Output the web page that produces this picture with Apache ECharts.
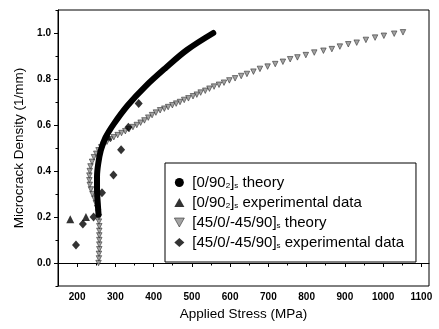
<!DOCTYPE html>
<html>
<head>
<meta charset="utf-8">
<script src="https://cdn.jsdelivr.net/npm/echarts@6/dist/echarts.min.js"></script>
<style>
html,body{margin:0;padding:0;background:#fff;}
#c{width:439px;height:329px;}
</style>
</head>
<body>
<div id="c"></div>
<script>
// ---- data ----
const xMajorTicks = [200, 300, 400, 500, 600, 700, 800, 900, 1000, 1100];
const xMinorTicks = [150, 250, 350, 450, 550, 650, 750, 850, 950, 1050];
const yMajorTicks = [0.0, 0.2, 0.4, 0.6, 0.8, 1.0];
const yMinorTicks = [-0.1, 0.1, 0.3, 0.5, 0.7, 0.9, 1.1];

// [0/90_2]_s theory
const crossTheoryStress  = [256, 254, 252, 252, 255, 262, 274, 296, 332, 378, 430, 487, 556];
const crossTheoryDensity = [0.21, 0.26, 0.32, 0.375, 0.43, 0.49, 0.545, 0.605, 0.685, 0.767, 0.846, 0.926, 1.0];

// [0/90_2]_s experimental data
const crossExpStress  = [182, 223, 281];
const crossExpDensity = [0.19, 0.20, 0.55];

// [45/0/-45/90]_s theory
const quasiTheoryStress = [256,257,257,258,258,258,258,258,258,257,257,255,252,249,245,240,236,233,232,232,233,235,239,244,250,256,263,270,278,287,296,306,316,326,336,346,356,366,376,386,396,406,
  417,428,438,449,459,469,480,491,503,513,523,535,546,558,571,584,598,613,629,644,661,678,698,718,738,757,776,798,820,844,866,887,909,931,955,979,1002,1029,1052];
const quasiTheoryDensity = [0.00,0.02,0.04,0.06,0.08,0.10,0.12,0.14,0.16,0.18,0.20,0.22,0.24,0.26,0.28,0.30,0.32,0.34,0.36,0.38,0.40,0.42,0.44,0.46,0.475,0.49,0.503,0.515,0.527,0.538,0.547,0.556,0.565,0.573,0.582,0.591,0.600,0.610,0.620,0.632,0.643,0.654,
  0.664,0.671,0.678,0.686,0.693,0.700,0.709,0.716,0.725,0.732,0.741,0.749,0.758,0.767,0.775,0.784,0.794,0.803,0.813,0.822,0.832,0.844,0.854,0.865,0.875,0.886,0.894,0.904,0.915,0.923,0.930,0.941,0.951,0.958,0.970,0.980,0.988,0.997,1.003];

// [45/0/-45/90]_s experimental data
const quasiExpStress  = [197, 215, 243, 265, 295, 315, 334, 361];
const quasiExpDensity = [0.078, 0.17, 0.20, 0.305, 0.383, 0.492, 0.59, 0.694];

const legendLabels = {
  crossTheory: '[0/90{sub|2}]{sub|s} theory',
  crossExp: '[0/90{sub|2}]{sub|s} experimental data',
  quasiTheory: '[45/0/-45/90]{sub|s} theory',
  quasiExp: '[45/0/-45/90]{sub|s} experimental data'
};

function zip(a, b) { return a.map((v, i) => [v, b[i]]); }

const FONT = '"Liberation Sans", Arial, Helvetica, sans-serif';
const xMin = 150, xMax = 1120, yMin = -0.1, yMax = 1.1;

const chart = echarts.init(document.getElementById('c'), null, {renderer: 'canvas'});
const invTri = 'path://M0,0 L10,0 L5,9 Z';
const grayMarker = {color: '#8c8c8c', borderColor: '#262626', borderWidth: 0.7};

chart.setOption({
  animation: false,
  backgroundColor: '#fff',
  grid: {left: 58, right: 10, top: 10, bottom: 43, show: true, borderColor: '#000', borderWidth: 1, backgroundColor: 'transparent'},
  xAxis: [{
    type: 'value', min: xMin, max: xMax, position: 'bottom',
    name: 'Applied Stress (MPa)', nameLocation: 'middle', nameGap: 20,
    nameTextStyle: {fontFamily: FONT, fontSize: 13.5, color: '#000'},
    axisLine: {show: true, lineStyle: {color: '#000', width: 1}},
    axisTick: {show: true, length: 4, customValues: xMajorTicks, lineStyle: {color: '#000'}},
    axisLabel: {customValues: xMajorTicks, margin: 6, fontFamily: FONT, fontSize: 10, fontWeight: 'bold', color: '#000',
      formatter: v => String(v)},
    splitLine: {show: false}
  }, {
    type: 'value', min: xMin, max: xMax, position: 'bottom', gridIndex: 0,
    axisLine: {show: false},
    axisTick: {show: true, length: 2.5, customValues: xMinorTicks, lineStyle: {color: '#000'}},
    axisLabel: {show: false},
    splitLine: {show: false}
  }],
  yAxis: [{
    type: 'value', min: yMin, max: yMax,
    name: 'Microcrack Density (1/mm)', nameLocation: 'middle', nameGap: 19, nameRotate: 90,
    nameTextStyle: {fontFamily: FONT, fontSize: 13.5, color: '#000'},
    axisLine: {show: true, lineStyle: {color: '#000', width: 1}},
    axisTick: {show: true, length: 4, customValues: yMajorTicks, lineStyle: {color: '#000'}},
    axisLabel: {customValues: yMajorTicks, margin: 7, fontFamily: FONT, fontSize: 10, fontWeight: 'bold', color: '#000',
      formatter: v => v.toFixed(1)},
    splitLine: {show: false}
  }, {
    type: 'value', min: yMin, max: yMax, position: 'left',
    axisLine: {show: false},
    axisTick: {show: true, length: 2.5, customValues: yMinorTicks, lineStyle: {color: '#000'}},
    axisLabel: {show: false},
    splitLine: {show: false}
  }],
  legend: {
    orient: 'vertical', left: 165, top: 163,
    padding: [12, 12, 12, 9], itemGap: 5,
    itemWidth: 10, itemHeight: 9,
    borderColor: '#000', borderWidth: 1, backgroundColor: '#fff',
    data: [
      {name: 'crossTheory', icon: 'circle'},
      {name: 'crossExp', icon: 'triangle'},
      {name: 'quasiTheory', icon: invTri, itemStyle: grayMarker},
      {name: 'quasiExp', icon: 'diamond'}
    ],
    formatter: n => legendLabels[n],
    textStyle: {
      fontFamily: FONT, fontSize: 15, color: '#000', lineHeight: 15, padding: [0, 0, 0, 3],
      rich: {sub: {fontFamily: FONT, fontSize: 8, color: '#000', verticalAlign: 'bottom', lineHeight: 8, padding: [7, 0, 0, 0]}}
    }
  },
  series: [
    {
      name: 'crossTheory', type: 'line', smooth: 0.35,
      data: zip(crossTheoryStress, crossTheoryDensity),
      showSymbol: false, symbol: 'circle',
      lineStyle: {color: '#000', width: 6, cap: 'round', join: 'round'},
      itemStyle: {color: '#000'}, z: 3
    },
    {
      name: 'quasiTheory', type: 'scatter',
      data: zip(quasiTheoryStress, quasiTheoryDensity),
      symbol: 'triangle', symbolRotate: 180, symbolSize: 5.5,
      itemStyle: grayMarker, z: 2
    },
    {
      name: 'crossExp', type: 'scatter',
      data: zip(crossExpStress, crossExpDensity),
      symbol: 'triangle', symbolSize: 8,
      itemStyle: {color: '#000'}, z: 4
    },
    {
      name: 'quasiExp', type: 'scatter',
      data: zip(quasiExpStress, quasiExpDensity),
      symbol: 'diamond', symbolSize: [8, 9],
      itemStyle: {color: '#000'}, z: 4
    }
  ]
});
</script>
</body>
</html>
